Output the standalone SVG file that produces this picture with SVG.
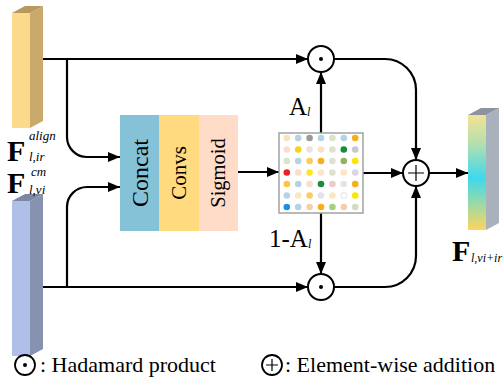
<svg xmlns="http://www.w3.org/2000/svg" width="504" height="387" viewBox="0 0 504 387">
<style>
.arr{fill:none;stroke:#000;stroke-width:2.2;marker-end:url(#ah)}
.op{fill:#fff;stroke:#000;stroke-width:2}
.sym{fill:none;stroke:#000;stroke-width:1.2}
text{font-family:"Liberation Serif","Times New Roman",serif}
</style>
<defs>
<marker id="ah" markerUnits="userSpaceOnUse" markerWidth="14" markerHeight="12" refX="12" refY="5" orient="auto">
<path d="M0,0 L12,5 L0,10 z" fill="#000"/>
</marker>
<linearGradient id="outg" x1="0" y1="0" x2="0" y2="1">
<stop offset="0" stop-color="#F2E394"/>
<stop offset="0.25" stop-color="#B5DFAE"/>
<stop offset="0.55" stop-color="#3FD8EE"/>
<stop offset="0.8" stop-color="#A6D99E"/>
<stop offset="1" stop-color="#FFD45E"/>
</linearGradient>
</defs>
<rect width="504" height="387" fill="#fff"/>

<g id="connectors">
<path class="arr" d="M36,59 H308"/>
<path class="arr" d="M67,59 V137 A20,20 0 0 0 87,157 H120"/>
<path class="arr" d="M36,287 H308"/>
<path class="arr" d="M67,287 V207 A20,20 0 0 1 87,187 H120"/>
<path class="arr" d="M238,172 H279"/>
<path class="arr" d="M321,133 V72"/>
<path class="arr" d="M321,213 V274"/>
<path class="arr" d="M363,173 H403"/>
<path class="arr" d="M334,59 H385 A31,31 0 0 1 416,90 V160"/>
<path class="arr" d="M334,287 H385 A31,31 0 0 0 416,256 V186"/>
<path class="arr" d="M429,173 H468"/>
</g>

<g id="input_ir">
<rect x="12" y="13" width="18" height="115" fill="#FCDA8C"/>
<polygon points="30,13 43,6 43,121 30,128" fill="#C9AA6C"/>
<polygon points="12,13 25,6 43,6 30,13" fill="#B8985C"/>
<text x="7" y="161" font-size="30" font-weight="bold">F</text>
<text x="29" y="140" font-size="13" font-style="italic">align</text>
<text x="29" y="161" font-size="13" font-style="italic">l,ir</text>
</g>

<g id="input_vi">
<rect x="12" y="201" width="18" height="155" fill="#AFC0E8"/>
<polygon points="30,201 43,194 43,349 30,356" fill="#8592B0"/>
<polygon points="12,201 25,194 43,194 30,201" fill="#7B88A4"/>
<text x="7" y="193" font-size="30" font-weight="bold">F</text>
<text x="31" y="176" font-size="13" font-style="italic">cm</text>
<text x="29" y="194" font-size="13" font-style="italic">l,vi</text>
</g>

<g id="concat" text-anchor="middle">
<rect x="120" y="115" width="39.5" height="116" fill="#85C2D8"/>
<text font-size="24" transform="translate(139.5,173) rotate(-90)" y="8">Concat</text>
</g>
<g id="convs" text-anchor="middle">
<rect x="159" y="115" width="40" height="116" fill="#FFDA7E"/>
<text font-size="21" transform="translate(179,173) rotate(-90)" y="7">Convs</text>
</g>
<g id="sigmoid" text-anchor="middle">
<rect x="199" y="115" width="39" height="116" fill="#FFDCC8"/>
<text font-size="20.5" transform="translate(218.5,173) rotate(-90)" y="6">Sigmoid</text>
</g>

<g id="attention_map">
<rect x="279" y="133" width="84" height="80" fill="#fff" stroke="#A3A3A3" stroke-width="1.5"/>
<g>
<circle cx="286.8" cy="138" r="3.3" fill="#FBE3B9"/><circle cx="298.2" cy="138" r="3.3" fill="#B3D4E6"/><circle cx="309.6" cy="138" r="3.3" fill="#9A9A9A"/><circle cx="321" cy="138" r="3.3" fill="#B3D4E6"/><circle cx="332.4" cy="138" r="3.3" fill="#DCE2CC"/><circle cx="343.8" cy="138" r="3.3" fill="#B3D4E6"/><circle cx="355.2" cy="138" r="3.3" fill="#F8AE1A"/>
<circle cx="286.8" cy="149.5" r="3.3" fill="#F9DECD"/><circle cx="298.2" cy="149.5" r="3.3" fill="#F5D60F"/><circle cx="309.6" cy="149.5" r="3.3" fill="#E5E5E5"/><circle cx="321" cy="149.5" r="3.3" fill="#F9DECD"/><circle cx="332.4" cy="149.5" r="3.3" fill="#DCE2CC"/><circle cx="343.8" cy="149.5" r="3.3" fill="#1A8C3C"/><circle cx="355.2" cy="149.5" r="3.3" fill="#C9C9C9"/>
<circle cx="286.8" cy="161" r="3.3" fill="#DCE2CC"/><circle cx="298.2" cy="161" r="3.3" fill="#B3D4E6"/><circle cx="309.6" cy="161" r="3.3" fill="#FCCB5A"/><circle cx="321" cy="161" r="3.3" fill="#F8AE1A"/><circle cx="332.4" cy="161" r="3.3" fill="#DCE2CC"/><circle cx="343.8" cy="161" r="3.3" fill="#92B25E"/><circle cx="355.2" cy="161" r="3.3" fill="#FCE500"/>
<circle cx="286.8" cy="172.5" r="3.3" fill="#E8242A"/><circle cx="298.2" cy="172.5" r="3.3" fill="#F9DECD"/><circle cx="309.6" cy="172.5" r="3.3" fill="#FDE724"/><circle cx="321" cy="172.5" r="3.3" fill="#FBE6C6"/><circle cx="332.4" cy="172.5" r="3.3" fill="#DCE2CC"/><circle cx="343.8" cy="172.5" r="3.3" fill="#FBE6C6"/><circle cx="355.2" cy="172.5" r="3.3" fill="#DCD5E8"/>
<circle cx="286.8" cy="184" r="3.3" fill="#FBC543"/><circle cx="298.2" cy="184" r="3.3" fill="#B3D4E6"/><circle cx="309.6" cy="184" r="3.3" fill="#F9DECD"/><circle cx="321" cy="184" r="3.3" fill="#1A8C3C"/><circle cx="332.4" cy="184" r="3.3" fill="#EECACA"/><circle cx="343.8" cy="184" r="3.3" fill="#E5E5E5"/><circle cx="355.2" cy="184" r="3.3" fill="#F8AE1A"/>
<circle cx="286.8" cy="195.5" r="3.3" fill="#B3D4E6"/><circle cx="298.2" cy="195.5" r="3.3" fill="#FCE7C2"/><circle cx="309.6" cy="195.5" r="3.3" fill="#FCCB5A"/><circle cx="321" cy="195.5" r="3.3" fill="#E3E1EC"/><circle cx="332.4" cy="195.5" r="3.3" fill="#FCE7C2"/><circle cx="343.8" cy="195.5" r="3" fill="#FFFFFF" stroke="#D0D0D0" stroke-width="0.6"/><circle cx="355.2" cy="195.5" r="3.3" fill="#FCE500"/>
<circle cx="286.8" cy="207" r="3.3" fill="#1E8FE0"/><circle cx="298.2" cy="207" r="3.3" fill="#B3D4E6"/><circle cx="309.6" cy="207" r="3.3" fill="#F8CDAA"/><circle cx="321" cy="207" r="3.3" fill="#F8AE1A"/><circle cx="332.4" cy="207" r="3.3" fill="#A8CE80"/><circle cx="343.8" cy="207" r="3.3" fill="#F8CDAA"/><circle cx="355.2" cy="207" r="3.3" fill="#D5DBC2"/>
</g>
<text font-size="25" x="289" y="115">A</text>
<text font-size="12" font-style="italic" x="307" y="116">l</text>
<text font-size="25" x="269" y="247">1-A</text>
<text font-size="12" font-style="italic" x="308" y="248">l</text>
</g>

<g id="hadamard_top">
<circle class="op" cx="321" cy="59" r="13"/>
<circle cx="321" cy="59" r="2" fill="#000"/>
</g>
<g id="hadamard_bottom">
<circle class="op" cx="321" cy="287" r="13"/>
<circle cx="321" cy="287" r="2" fill="#000"/>
</g>
<g id="add">
<circle class="op" cx="416" cy="173" r="13"/>
<path class="sym" d="M416,165 V181 M408,173 H424"/>
</g>

<g id="output">
<rect x="468" y="115" width="18" height="115" fill="url(#outg)"/>
<polygon points="486,115 499,108 499,223 486,230" fill="#A9B2BC"/>
<polygon points="468,115 481,108 499,108 486,115" fill="#8B949E"/>
<text x="452" y="261" font-size="30" font-weight="bold">F</text>
<text x="471" y="262" font-size="12" font-style="italic">l,vi+ir</text>
</g>

<g id="legend">
<circle cx="25" cy="365" r="10" fill="none" stroke="#000" stroke-width="1.8"/>
<circle cx="25" cy="365" r="2" fill="#000"/>
<text x="40" y="372" font-size="22">: Hadamard product</text>
<circle cx="272" cy="365" r="10" fill="none" stroke="#000" stroke-width="1.8"/>
<path class="sym" d="M272,359 V371 M266,365 H278"/>
<text x="285" y="372" font-size="22">: Element-wise addition</text>
</g>
</svg>
